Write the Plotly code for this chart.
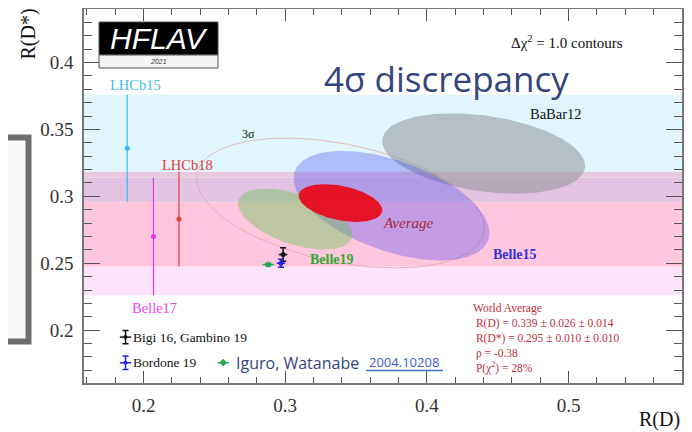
import numpy as np
import plotly.graph_objects as go

# ---------------- data ----------------
# R(D*)-only measurements (bands + error bars)
band_names = ["LHCb15", "LHCb18", "Belle17"]
band_center = [0.336, 0.283, 0.270]
band_err = [0.040, 0.0355, 0.044]
band_bar_x = [0.1885, 0.225, 0.207]          # display position of the error bar
band_colors = ["#3dbcee", "#e83a3a", "#ee33ee"]

# 2D measurements (Δχ² = 1 contours)
ell_names = ["BaBar12", "Belle15", "Belle19", "Average"]
ell_rd = [0.440, 0.375, 0.307, 0.339]
ell_rds = [0.332, 0.293, 0.283, 0.295]
ell_sig_rd = [0.0716, 0.0691, 0.0403, 0.0295]
ell_sig_rds = [0.0300, 0.0409, 0.0228, 0.0141]
ell_rho = [-0.31, -0.50, -0.51, -0.38]
ell_fill = ["rgba(136,140,144,0.5)", "rgba(60,60,240,0.30)",
            "rgba(110,195,90,0.45)", "rgba(232,14,30,0.96)"]

# 3 sigma contour for the average (Δχ² = 11.83 for 2 dof)
dchi2_3sigma = 11.83

# SM predictions
sm_names = ["Bigi 16, Gambino 19", "Bordone 19", "Iguro, Watanabe"]
sm_rd = [0.2985, 0.2970, 0.288]
sm_rds = [0.2565, 0.2500, 0.249]
sm_err_rd = [0.003, 0.003, 0.004]
sm_err_rds = [0.005, 0.003, 0.001]
sm_colors = ["#111111", "#2222ee", "#22aa55"]

X_RANGE = [0.158, 0.580]
Y_RANGE = [0.1605, 0.440]

# page layout (the page body has an 8px margin)
BODY = 8
FIG_W, FIG_H = 692 - BODY, 432 - BODY
PX0, PX1, PY0, PY1 = 84, 682, 9, 383       # plot frame in page pixels


def xp(px):
    return (px - PX0) / (PX1 - PX0)


def yp(py):
    return (PY1 - py) / (PY1 - PY0)


fig = go.Figure()

# ---------------- bands (regions split by overlap) ----------------
overlap_colors = {
    frozenset(["LHCb15"]): "#e0f5fc",
    frozenset(["LHCb15", "LHCb18"]): "#e6cbe0",
    frozenset(["LHCb15", "LHCb18", "Belle17"]): "#e2c4e2",
    frozenset(["LHCb18", "Belle17"]): "#ffc6de",
    frozenset(["Belle17"]): "#fde4fc",
    frozenset(["LHCb18"]): "#ffcfe2",
    frozenset(["LHCb15", "Belle17"]): "#ecdcf6",
}
edges = sorted(set([c - e for c, e in zip(band_center, band_err)] +
                   [c + e for c, e in zip(band_center, band_err)]))
shapes = []
for lo, hi in zip(edges[:-1], edges[1:]):
    mid = 0.5 * (lo + hi)
    cover = frozenset(n for n, c, e in zip(band_names, band_center, band_err)
                      if c - e <= mid <= c + e)
    if not cover:
        continue
    shapes.append(dict(type="rect", xref="paper", yref="y", x0=0, x1=1, y0=lo, y1=hi,
                       fillcolor=overlap_colors.get(cover, "#eeeeee"), line_width=0,
                       layer="below"))

# ---------------- ellipses ----------------
t = np.linspace(0, 2 * np.pi, 181)


def ellipse(mx, my, sx, sy, rho, k=1.0):
    r = np.sqrt(k)
    x = mx + r * sx * np.cos(t)
    y = my + r * sy * (rho * np.cos(t) + np.sqrt(1 - rho ** 2) * np.sin(t))
    return x, y


# 3 sigma contour of average
i_avg = ell_names.index("Average")
x3, y3 = ellipse(ell_rd[i_avg], ell_rds[i_avg], ell_sig_rd[i_avg], ell_sig_rds[i_avg],
                 ell_rho[i_avg], dchi2_3sigma)
fig.add_trace(go.Scatter(x=x3, y=y3, mode="lines", line=dict(color="rgba(230,160,160,0.7)", width=1),
                         hoverinfo="skip", showlegend=False))

for name, mx, my, sx, sy, rho, col in zip(ell_names, ell_rd, ell_rds, ell_sig_rd,
                                          ell_sig_rds, ell_rho, ell_fill):
    ex, ey = ellipse(mx, my, sx, sy, rho)
    fig.add_trace(go.Scatter(x=ex, y=ey, mode="lines", fill="toself", fillcolor=col,
                             line=dict(width=0, color=col), name=name,
                             hoverinfo="skip", showlegend=False))

# ---------------- R(D*) error bars ----------------
for name, c, e, bx, col in zip(band_names, band_center, band_err, band_bar_x, band_colors):
    fig.add_trace(go.Scatter(x=[bx], y=[c], mode="markers",
                             marker=dict(color=col, size=5),
                             error_y=dict(type="data", array=[e], color=col, thickness=1.2, width=0),
                             showlegend=False, hoverinfo="skip"))

# ---------------- SM predictions ----------------
for i in range(3):
    fig.add_trace(go.Scatter(x=[sm_rd[i]], y=[sm_rds[i]], mode="markers",
                             marker=dict(color=sm_colors[i], size=5,
                                         symbol="diamond" if i == 2 else "circle"),
                             error_x=dict(type="data", array=[sm_err_rd[i]], color=sm_colors[i],
                                          thickness=1.5, width=0),
                             error_y=dict(type="data", array=[sm_err_rds[i]], color=sm_colors[i],
                                          thickness=1.5, width=3),
                             showlegend=False, hoverinfo="skip"))

# legend icons
leg_x = [0.1873, 0.1873, 0.2562]
leg_y = [0.1948, 0.1756, 0.1757]
for i in range(3):
    fig.add_trace(go.Scatter(x=[leg_x[i]], y=[leg_y[i]], mode="markers",
                             marker=dict(color=sm_colors[i], size=4 if i < 2 else 6,
                                         symbol="circle" if i < 2 else "diamond"),
                             error_x=dict(type="data", array=[0.004], color=sm_colors[i],
                                          thickness=1.5, width=0),
                             error_y=dict(type="data", array=[0.005] if i < 2 else [0],
                                          color=sm_colors[i], thickness=1.5, width=3),
                             showlegend=False, hoverinfo="skip"))

# ---------------- annotations ----------------
serif = "Liberation Serif, Times New Roman, serif"
ann = []


def txt(x, y, s, size=12, color="#111", family=serif, xanchor="center", yanchor="middle",
        xref="x", yref="y", align="center"):
    ann.append(dict(x=x, y=y, text=s, xref=xref, yref=yref, showarrow=False,
                    font=dict(family=family, size=size, color=color),
                    xanchor=xanchor, yanchor=yanchor, align=align))


txt(0.1944, 0.3834, "LHCb15", 14.5, "#3dbcee")
txt(0.2308, 0.3232, "LHCb18", 14.5, "#e83a3a")
txt(0.2079, 0.2169, "Belle17", 14.5, "#ee44ee")
txt(0.4912, 0.3612, "BaBar12", 14.5, "#111")
txt(0.2739, 0.3467, "3σ", 12, "#111")
txt(0.3864, 0.2803, "<i>Average</i>", 15, "#a0283c")
txt(0.4623, 0.2562, "<b>Belle15</b>", 14, "#3333dd")
txt(0.3330, 0.2525, "<b>Belle19</b>", 14, "#33aa33")

txt(xp(567), yp(41.7), "Δχ<sup>2</sup> = 1.0 contours", 15, "#111", xref="paper", yref="paper")
txt(xp(446), yp(79), "4σ discrepancy", 35, "#33457f", family="Open Sans", xref="paper", yref="paper")

txt(xp(471), yp(300),
    "World Average<br> R(D) = 0.339 ± 0.026 ± 0.014<br> R(D*) = 0.295 ± 0.010 ± 0.010"
    "<br> ρ = -0.38<br> P(χ<sup>2</sup>) = 28%",
    11.5, "#c03040", xanchor="left", yanchor="top", xref="paper", yref="paper", align="left")

txt(0.1915, 0.1948, sm_names[0], 13.5, "#111", xanchor="left")
txt(0.1915, 0.1756, sm_names[1], 13.5, "#111", xanchor="left")
txt(0.2635, 0.1757, sm_names[2], 16, "#33457f", family="Open Sans", xanchor="left")
txt(0.3579, 0.1762, "2004.10208", 13, "#3b5bdb", family="Open Sans", xanchor="left")

# HFLAV logo
txt(xp(158.5), yp(38.5), "<i>HFLAV</i>", 30, "white",
    family="Liberation Sans", xref="paper", yref="paper")
txt(xp(158.5), yp(61.5), "<i>2021</i>", 7, "#333",
    family="Liberation Sans", xref="paper", yref="paper")

# axis titles
txt(1.0, yp(406), "R(D)", 20, "#111", xanchor="right", yanchor="top", xref="paper", yref="paper")
ann.append(dict(x=xp(28), y=yp(7), text="R(D*)", xref="paper", yref="paper",
                showarrow=False, textangle=-90, xanchor="center", yanchor="top",
                font=dict(family=serif, size=20, color="#111")))

# logo shapes, left box, underline
shapes += [
    dict(type="rect", xref="paper", yref="paper", x0=xp(99), x1=xp(218),
         y0=yp(55), y1=yp(22), fillcolor="black", line=dict(color="#555", width=1)),
    dict(type="rect", xref="paper", yref="paper", x0=xp(99), x1=xp(218),
         y0=yp(68), y1=yp(55), fillcolor="#f4f4f4", line=dict(color="#555", width=1)),
    dict(type="rect", xref="paper", yref="paper", x0=xp(-40), x1=xp(28.5),
         y0=yp(341.5), y1=yp(137.5), fillcolor="#fafafa",
         line=dict(color="#6e6e6e", width=6)),
    dict(type="line", xref="paper", yref="paper", x0=xp(366), x1=xp(443),
         y0=yp(370.5), y1=yp(370.5), line=dict(color="#3b6fd0", width=1.5)),
]

axis_common = dict(showgrid=False, zeroline=False, showline=True, linecolor="#777", linewidth=1.5,
                   mirror="allticks", ticks="inside", tickcolor="#555", automargin=False,
                   tickfont=dict(family=serif, size=19, color="#333"))
fig.update_layout(
    template="none",
    width=FIG_W, height=FIG_H,
    margin=dict(l=PX0 - BODY, r=FIG_W - (PX1 - BODY), t=PY0 - BODY, b=FIG_H - (PY1 - BODY),
                autoexpand=False),
    paper_bgcolor="white", plot_bgcolor="white",
    showlegend=False,
    xaxis=dict(range=X_RANGE, tick0=0, dtick=0.1, ticklen=12, tickwidth=1.2,
               minor=dict(ticks="inside", dtick=0.02, ticklen=6, tickcolor="#555"),
               ticklabelstandoff=4, **axis_common),
    yaxis=dict(range=Y_RANGE, tick0=0, dtick=0.05, ticklen=16, tickwidth=1.2,
               minor=dict(ticks="inside", dtick=0.01, ticklen=8, tickcolor="#555"),
               ticklabelstandoff=5, **axis_common),
    shapes=shapes,
    annotations=ann,
)

fig.write_html("out.html")
